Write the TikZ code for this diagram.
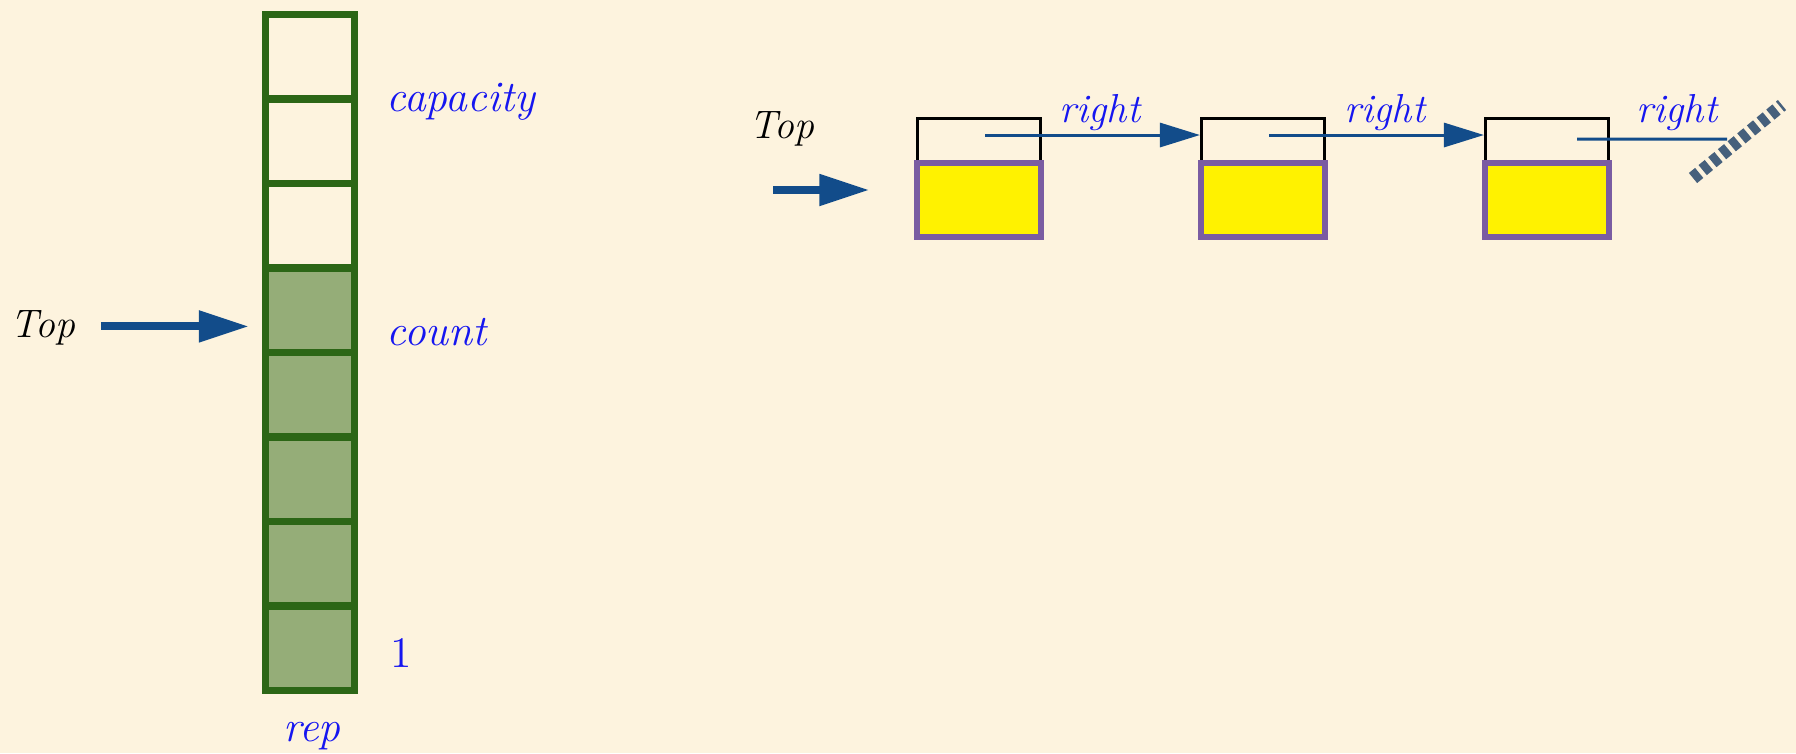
\documentclass[tikz,border=0pt]{standalone}
\usepackage{tikz}
\usetikzlibrary{arrows.meta}
\definecolor{parch}{RGB}{253,243,222}
\definecolor{cellgreen}{RGB}{44,102,22}
\definecolor{cellfill}{RGB}{149,173,120}
\definecolor{ptrblue}{RGB}{18,76,138}
\definecolor{lblblue}{RGB}{22,22,240}
\definecolor{itempurple}{RGB}{122,92,162}
\definecolor{gndgray}{RGB}{70,96,124}

\begin{document}
\begin{tikzpicture}[x=0.01cm,y=-0.01cm,
 cell/.style={rectangle,draw=cellgreen,line width=2pt,minimum width=0.89cm,minimum height=0.845cm,inner sep=0pt},
 used/.style={fill=cellfill},
 lbl/.style={text=lblblue,font=\fontsize{12.4}{15}\selectfont\itshape,inner sep=0pt},
 rlbl/.style={text=lblblue,font=\fontsize{11.5}{14}\selectfont\itshape,inner sep=0pt},
 toplbl/.style={font=\fontsize{11.3}{13}\selectfont\itshape,inner sep=0pt},
 bigarrow/.style={draw=ptrblue,line width=0.08cm,-{Triangle[length=0.5cm,width=0.3cm]}},
 ptr/.style={draw=ptrblue,line width=0.85pt,-{Triangle[length=0.4cm,width=0.24cm]}},
 wire/.style={draw=ptrblue,line width=0.85pt},
 gnd/.style={draw=gndgray,line width=0.13cm,dash pattern=on 0.08cm off 0.045cm},
 item/.style={rectangle,draw=itempurple,fill=yellow,line width=1.7pt,minimum width=1.23cm,minimum height=0.74cm,inner sep=0pt},
 link/.style={rectangle,draw=black,line width=0.85pt,minimum width=1.23cm,minimum height=0.43cm,inner sep=0pt}]

\fill[parch] (0,0) rectangle (1796,753);
\useasboundingbox (0,0) rectangle (1796,753);

% array rep
\foreach \i in {1,2,3}
  \node (c\i) [cell] at (310,84.5*\i-27.75) {};
\foreach \i in {4,...,8}
  \node (c\i) [cell,used] at (310,84.5*\i-27.75) {};

\node (cap) [lbl,anchor=base west] at (386,111) {capacity};
\node (cnt) [lbl,anchor=base west] at (386,345) {count};
\node (one) [lbl,anchor=base west] at (390,667) {\upshape 1};
\node (rep) [lbl,anchor=base] at (312,741) {rep};

\node (topA) [toplbl,anchor=base west] at (10,337) {Top};
\draw[bigarrow,shorten >=0.13cm] ([xshift=0.25cm,yshift=0.01cm]topA.east) -- ([yshift=0.01cm]topA.east -| c4.west);

% linked list
\foreach \n/\x in {1/979,2/1263,3/1547}{
  \node (link\n) [link] at (\x,139.5) {};
  \node (item\n) [item] at (\x,200) {};
}

\node (topB) [toplbl,anchor=base west] at (749,138) {Top};
\coordinate (topBfrom) at (773,190);
\draw[bigarrow,shorten >=0.45cm] (topBfrom) -- (topBfrom -| item1.west);

\draw[ptr] ([xshift=0.06cm,yshift=0.045cm]link1.center) -- ([yshift=0.045cm]link2.west);
\draw[ptr] ([xshift=0.06cm,yshift=0.045cm]link2.center) -- ([yshift=0.045cm]link3.west);
\coordinate (nil) at (1727,139);
\draw[wire] ([xshift=0.3cm,yshift=0.005cm]link3.center) -- (nil);
\draw[gnd] ([shift={(-34,39)}]nil) -- ([shift={(55,-34)}]nil);

\node (r1) [rlbl,anchor=base] at (1100,122) {right};
\node (r2) [rlbl,anchor=base] at (1385,122) {right};
\node (r3) [rlbl,anchor=base] at (1677,122) {right};
\end{tikzpicture}
\end{document}
